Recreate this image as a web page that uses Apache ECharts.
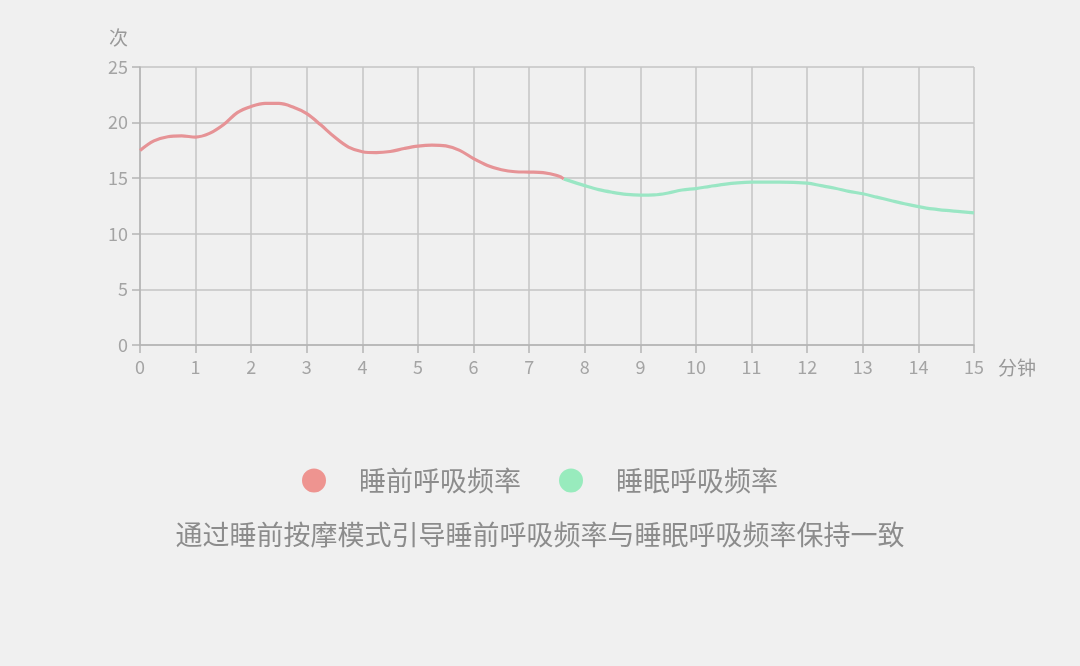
<!DOCTYPE html>
<html><head><meta charset="utf-8">
<script src="https://cdn.jsdelivr.net/npm/echarts@6/dist/echarts.min.js"></script>
<style>html,body{margin:0;padding:0;background:#f0f0f0}#c{width:1080px;height:666px}</style>
</head><body><div id="c"></div>
<script>
const seriesNames = ['睡前呼吸频率', '睡眠呼吸频率'];
const preSleep = [[0,17.5],[0.25,18.36],[0.5,18.73],[0.75,18.8],[1,18.7],[1.25,19.03],[1.5,19.8],[1.75,20.9],[2,21.45],[2.25,21.72],[2.5,21.72],[2.75,21.4],[3,20.8],[3.25,19.8],[3.5,18.7],[3.75,17.8],[4,17.38],[4.25,17.3],[4.5,17.4],[4.75,17.67],[5,17.88],[5.25,17.97],[5.5,17.9],[5.75,17.5],[6,16.76],[6.25,16.15],[6.5,15.76],[6.75,15.58],[7,15.55],[7.25,15.5],[7.5,15.24],[7.62,14.94]];
const sleep = [[7.62,14.94],[8,14.33],[8.25,13.97],[8.5,13.73],[8.75,13.55],[9,13.48],[9.25,13.5],[9.5,13.67],[9.75,13.94],[10,14.07],[10.25,14.27],[10.5,14.45],[10.75,14.58],[11,14.64],[11.5,14.65],[12,14.55],[12.25,14.33],[12.5,14.1],[12.75,13.82],[13,13.6],[13.25,13.3],[13.5,13.0],[13.75,12.7],[14,12.45],[14.25,12.24],[14.5,12.1],[14.75,12.0],[15,11.88]];
const subtitle = '通过睡前按摩模式引导睡前呼吸频率与睡眠呼吸频率保持一致';
const font = '"Noto Sans CJK SC", "Noto Sans", sans-serif';
const chart = echarts.init(document.getElementById('c'));
chart.setOption({
  backgroundColor: '#f0f0f0',
  animation: false,
  textStyle: { fontFamily: font },
  title: {
    text: subtitle, left: 'center', top: 516,
    textStyle: { fontSize: 27, fontWeight: 'normal', color: '#8c8c8c', fontFamily: font }
  },
  legend: {
    top: 462, left: 'center', icon: 'circle', itemWidth: 24, itemHeight: 24, itemGap: 38,
    data: seriesNames,
    textStyle: { fontSize: 27, color: '#8c8c8c', padding: [0, 0, 0, 28], fontFamily: font }
  },
  grid: { left: 140, right: 106, top: 67, bottom: 321, containLabel: false },
  xAxis: {
    type: 'value', min: 0, max: 15, interval: 1,
    name: '分钟', nameLocation: 'end', nameGap: 24,
    nameTextStyle: { fontSize: 19, color: '#999', verticalAlign: 'top', lineHeight: 46 },
    axisLine: { show: true, lineStyle: { color: '#b4b4b4', width: 1.5 } },
    axisTick: { show: true, length: 8, lineStyle: { color: '#b4b4b4', width: 1.5 } },
    axisLabel: { fontSize: 18, color: '#a4a4a4', margin: 13 },
    splitLine: { show: true, lineStyle: { color: '#c4c4c4', width: 1.5 } }
  },
  yAxis: {
    type: 'value', min: 0, max: 25, interval: 5,
    name: '次', nameLocation: 'end', nameGap: 20,
    nameTextStyle: { fontSize: 19, color: '#999', align: 'right', padding: [0, 12, 0, 0] },
    axisLine: { show: true, lineStyle: { color: '#b4b4b4', width: 1.5 } },
    axisTick: { show: true, length: 8, lineStyle: { color: '#b4b4b4', width: 1.5 } },
    axisLabel: { fontSize: 18, color: '#a4a4a4', margin: 12 },
    splitLine: { show: true, lineStyle: { color: '#c4c4c4', width: 1.5 } }
  },
  series: [
    { name: seriesNames[0], type: 'line', data: preSleep, smooth: 0.35, showSymbol: false,
      itemStyle: { color: '#ee9490' }, lineStyle: { color: '#e69396', width: 3.2 }, z: 3 },
    { name: seriesNames[1], type: 'line', data: sleep, smooth: 0.35, showSymbol: false,
      itemStyle: { color: '#98ebbd' }, lineStyle: { color: '#9ae6c4', width: 3.2 }, z: 2 }
  ]
});
</script></body></html>
